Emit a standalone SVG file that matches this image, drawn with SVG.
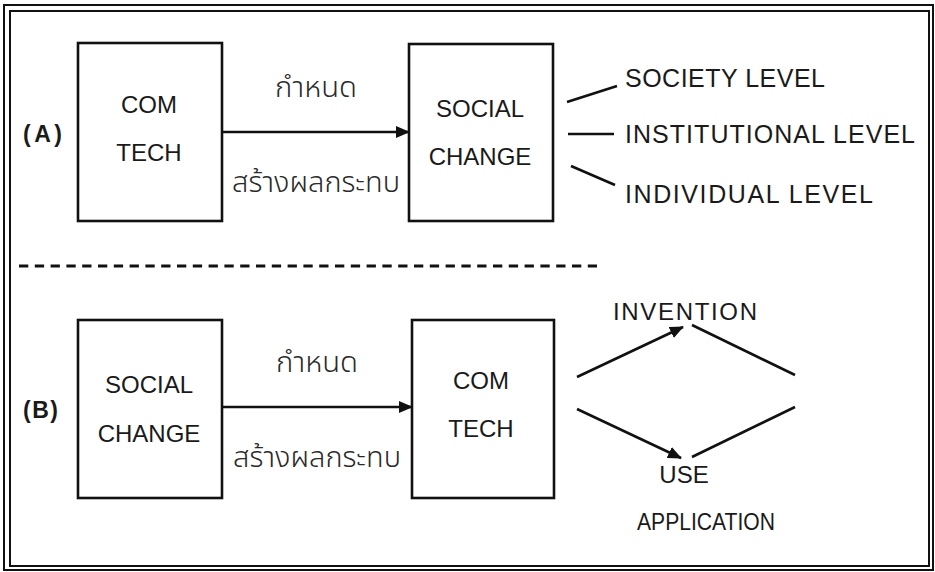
<svg xmlns="http://www.w3.org/2000/svg" width="935" height="572" viewBox="0 0 935 572">
  <style>
    .frame { fill: none; stroke: #111; stroke-width: 2; }
    .box { fill: #fff; stroke: #111; stroke-width: 2.6; }
    .conn { fill: none; stroke: #111; stroke-width: 2.6; }
    .lbl { font-family: "Liberation Sans", "Noto Sans Thai", "Noto Sans", sans-serif; font-size: 24px; fill: #1a1a1a; text-anchor: middle; }
    .side { font-family: "Liberation Sans", "Noto Sans", sans-serif; font-size: 25px; fill: #1a1a1a; }
    .tag { font-family: "Liberation Sans", "Noto Sans", sans-serif; font-size: 23px; font-weight: bold; fill: #1a1a1a; }
    .thai { font-family: "Noto Sans Thai", "Noto Sans", "Liberation Sans", sans-serif; font-size: 28px; font-weight: 300; fill: #2a2a2a; text-anchor: middle; }
  </style>
  <defs>
    <marker id="arrow" markerUnits="userSpaceOnUse" markerWidth="14" markerHeight="12" refX="13" refY="6" orient="auto">
      <path d="M0,0 L14,6 L0,12 z" fill="#111"/>
    </marker>
  </defs>

  <rect width="935" height="572" fill="#fff"/>

  <!-- double page frame -->
  <rect class="frame" x="4" y="5" width="929" height="565"/>
  <rect class="frame" x="10" y="11" width="919" height="555"/>

  <!-- section separator -->
  <line x1="19" y1="266" x2="597" y2="266" stroke="#111" stroke-width="3" stroke-dasharray="9.3 6.5"/>

  <!-- section labels -->
  <text class="tag" x="23" y="142" textLength="39" lengthAdjust="spacing">(A)</text>
  <text class="tag" x="23" y="418" textLength="35" lengthAdjust="spacing">(B)</text>

  <!-- section A -->
  <g id="a-comtech">
    <rect class="box" x="78" y="43" width="144" height="178"/>
    <text class="lbl" x="149" y="113">COM</text>
    <text class="lbl" x="149" y="161">TECH</text>
  </g>
  <g id="a-social">
    <rect class="box" x="409" y="44" width="144" height="177"/>
    <text class="lbl" x="480" y="117">SOCIAL</text>
    <text class="lbl" x="480" y="165">CHANGE</text>
  </g>
  <g id="a-levels">
    <text class="side" x="625" y="87" textLength="200" lengthAdjust="spacing">SOCIETY LEVEL</text>
    <text class="side" x="625" y="143" textLength="290" lengthAdjust="spacing">INSTITUTIONAL LEVEL</text>
    <text class="side" x="625" y="203" textLength="248" lengthAdjust="spacing">INDIVIDUAL LEVEL</text>
  </g>

  <!-- section B -->
  <g id="b-social">
    <rect class="box" x="78" y="320" width="144" height="178"/>
    <text class="lbl" x="149" y="393">SOCIAL</text>
    <text class="lbl" x="149" y="442">CHANGE</text>
  </g>
  <g id="b-comtech">
    <rect class="box" x="412" y="320" width="142" height="178"/>
    <text class="lbl" x="481" y="389">COM</text>
    <text class="lbl" x="481" y="437">TECH</text>
  </g>
  <g id="b-invention">
    <text class="lbl" x="685" y="320" textLength="144" lengthAdjust="spacing">INVENTION</text>
  </g>
  <g id="b-use">
    <text class="lbl" x="684" y="483">USE</text>
    <text class="lbl" x="706" y="530" textLength="138" lengthAdjust="spacingAndGlyphs">APPLICATION</text>
  </g>

  <!-- connectors -->
  <g id="connectors">
    <line class="conn" x1="222" y1="132" x2="409" y2="132" marker-end="url(#arrow)"/>
    <text class="thai" x="316" y="97" textLength="82" lengthAdjust="spacingAndGlyphs">กำหนด</text>
    <text class="thai" x="316" y="192" textLength="168" lengthAdjust="spacingAndGlyphs">สร้างผลกระทบ</text>

    <line class="conn" x1="567" y1="102" x2="617" y2="86"/>
    <line class="conn" x1="568" y1="134" x2="614" y2="134"/>
    <line class="conn" x1="571" y1="166" x2="615" y2="185"/>

    <line class="conn" x1="222" y1="407" x2="412" y2="407" marker-end="url(#arrow)"/>
    <text class="thai" x="317" y="372" textLength="82" lengthAdjust="spacingAndGlyphs">กำหนด</text>
    <text class="thai" x="317" y="467" textLength="168" lengthAdjust="spacingAndGlyphs">สร้างผลกระทบ</text>

    <line class="conn" x1="577" y1="377" x2="683" y2="327" marker-end="url(#arrow)"/>
    <line class="conn" x1="692" y1="325" x2="795" y2="375"/>
    <line class="conn" x1="577" y1="409" x2="681" y2="458" marker-end="url(#arrow)"/>
    <line class="conn" x1="692" y1="457" x2="795" y2="407"/>
  </g>
</svg>
